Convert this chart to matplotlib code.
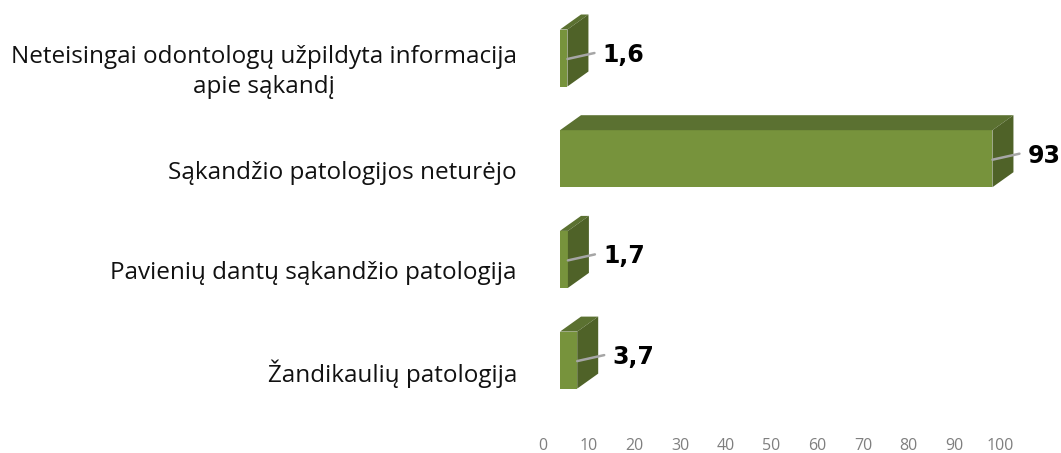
import matplotlib.pyplot as plt
from matplotlib.patches import Polygon

categories = [
    "Neteisingai odontologų užpildyta informacija\napie sąkandį",
    "Sąkandžio patologijos neturėjo",
    "Pavienių dantų sąkandžio patologija",
    "Žandikaulių patologija",
]
values = [1.6, 93, 1.7, 3.7]
value_labels = ["1,6", "93", "1,7", "3,7"]
ticks = [0, 10, 20, 30, 40, 50, 60, 70, 80, 90, 100]

front = "#77933c"
top = "#5b7131"
side = "#4f6228"

W, H = 1061, 453
fig = plt.figure(figsize=(W / 100, H / 100), dpi=100)

# main axes: x=0 at pixel 560, 4.65 px per unit
px_x = 4.65
ax = fig.add_axes([560 / W, 0, 465 / W, 1])
ax.set_xlim(0, 100)
px_y = 100.7
ax.set_ylim((H - 58) / px_y, -58 / px_y)
ax.axis("off")

bh = 57 / px_y
dx = 21 / px_x
dy = 15 / px_y

for i, v in enumerate(values):
    t, b = i - bh / 2, i + bh / 2
    ax.add_patch(Polygon([(0, b), (v, b), (v, t), (0, t)], closed=True,
                         facecolor=front, edgecolor="none"))
    ax.add_patch(Polygon([(0, t), (dx, t - dy), (v + dx, t - dy), (v, t)],
                         closed=True, facecolor=top, edgecolor="none"))
    ax.add_patch(Polygon([(v, t), (v + dx, t - dy), (v + dx, b - dy), (v, b)],
                         closed=True, facecolor=side, edgecolor="none"))
    # leader line + value label
    ax.plot([v, v + 27 / px_x], [i + 1 / px_y, i - 5 / px_y],
            color="#a6a6a6", lw=1.8, clip_on=False, solid_capstyle="round")
    ax.text(v + 35 / px_x, i - 3 / px_y, value_labels[i], ha="left", va="center",
            fontsize=17, fontweight="bold", family="DejaVu Sans", color="black",
            clip_on=False)
    ax.text(-43 / px_x, i + 14 / px_y, categories[i], ha="right", va="center",
            multialignment="center", fontsize=17.5, family="Open Sans",
            color="#111111", clip_on=False, linespacing=1.37)

# value axis (offset as in the 3D chart)
ax2 = fig.add_axes([543 / W, (H - 435) / H, 457 / W, 0.0001])
ax2.set_xlim(0, 100)
ax2.set_xticks(ticks)
ax2.set_xticklabels([str(t) for t in ticks], family="Open Sans", fontsize=11.5,
                    color="#7f7f7f")
ax2.tick_params(axis="x", length=0, pad=2)
ax2.set_yticks([])
for s in ax2.spines.values():
    s.set_visible(False)
ax2.patch.set_alpha(0)

fig.savefig("out.png", dpi=100)
